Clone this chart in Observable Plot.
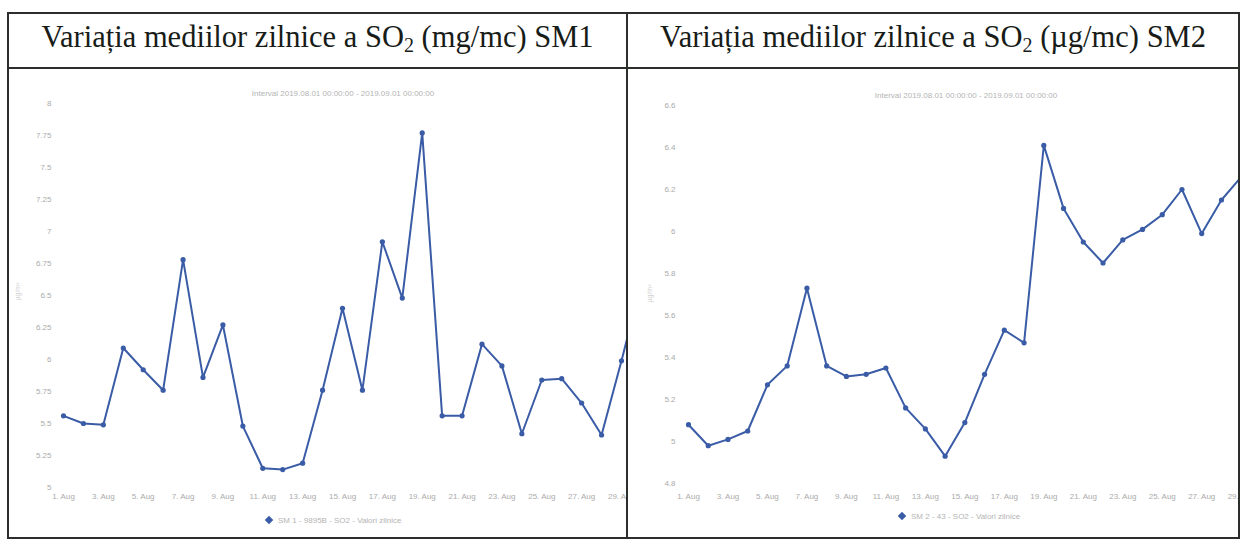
<!DOCTYPE html>
<html><head><meta charset="utf-8">
<script src="https://cdn.jsdelivr.net/npm/d3@7"></script>
<script src="https://cdn.jsdelivr.net/npm/@observablehq/plot@0.6"></script>
<style>
body{margin:0;background:#fff;}
#page{position:relative;width:1243px;height:541px;overflow:hidden;background:#fff;}
.ln{position:absolute;background:#2b2e2b;}
.title{position:absolute;top:13px;height:55px;font-family:"Liberation Serif",serif;font-size:30.5px;color:#181c18;text-align:center;line-height:1;white-space:nowrap;}
.title span.t{position:absolute;left:0;right:0;top:9px;}
.title sub{font-size:20px;vertical-align:-5px;line-height:0;}
.panel{position:absolute;top:69px;height:468px;overflow:hidden;}
.small{position:absolute;font-family:"Liberation Sans",Arial,sans-serif;font-size:8px;color:#b4b4b4;white-space:nowrap;}
.legend .dm{display:inline-block;width:6px;height:6px;background:#3a5ca6;transform:rotate(45deg);margin-right:6px;vertical-align:0px;}
.ytitle{position:absolute;font-family:"Liberation Sans",Arial,sans-serif;font-size:7px;color:#d2d2d2;transform:rotate(-90deg);transform-origin:center;white-space:nowrap;}
</style>
</head><body>
<div id="page">
  <div class="title" style="left:8px;width:619px;"><span class="t">Variația mediilor zilnice a SO<sub>2</sub> (mg/mc) SM1</span></div>
  <div class="title" style="left:627px;width:612px;"><span class="t">Variația mediilor zilnice a SO<sub>2</sub> (µg/mc) SM2</span></div>
  <div id="p1" class="panel" style="left:9px;width:617px;"></div>
  <div id="p2" class="panel" style="left:628px;width:611px;"></div>
  <div class="small" style="left:243px;top:89px;width:200px;text-align:center;">Interval 2019.08.01 00:00:00 - 2019.09.01 00:00:00</div>
  <div class="small" style="left:866px;top:91px;width:200px;text-align:center;">Interval 2019.08.01 00:00:00 - 2019.09.01 00:00:00</div>
  <div class="small legend" style="left:266px;top:516px;"><span class="dm"></span>SM 1 - 9895B - SO2 - Valori zilnice</div>
  <div class="small legend" style="left:899px;top:512px;"><span class="dm"></span>SM 2 - 43 - SO2 - Valori zilnice</div>
  <div class="ytitle" style="left:8px;top:288px;">µg/m³</div>
  <div class="ytitle" style="left:640px;top:290px;">µg/m³</div>
  <div class="ln" style="left:7px;top:12px;width:1233px;height:2px;"></div>
  <div class="ln" style="left:7px;top:67px;width:1233px;height:2px;"></div>
  <div class="ln" style="left:7px;top:537px;width:1233px;height:2px;"></div>
  <div class="ln" style="left:7px;top:12px;width:2px;height:527px;"></div>
  <div class="ln" style="left:626px;top:12px;width:2px;height:527px;"></div>
  <div class="ln" style="left:1238px;top:12px;width:2px;height:527px;"></div>
</div>
<script>
// Days of August 2019
const days1 = [1,2,3,4,5,6,7,8,9,10,11,12,13,14,15,16,17,18,19,20,21,22,23,24,25,26,27,28,29,30];
const sm1Values = [5.56,5.50,5.49,6.09,5.92,5.76,6.78,5.86,6.27,5.48,5.15,5.14,5.19,5.76,6.40,5.76,6.92,6.48,7.77,5.56,5.56,6.12,5.95,5.42,5.84,5.85,5.66,5.41,5.99,6.60];
const days2 = [1,2,3,4,5,6,7,8,9,10,11,12,13,14,15,16,17,18,19,20,21,22,23,24,25,26,27,28,29];
const sm2Values = [5.08,4.98,5.01,5.05,5.27,5.36,5.73,5.36,5.31,5.32,5.35,5.16,5.06,4.93,5.09,5.32,5.53,5.47,6.41,6.11,5.95,5.85,5.96,6.01,6.08,6.20,5.99,6.15,6.26];
const xTicks = [1,3,5,7,9,11,13,15,17,19,21,23,25,27,29];
const yTicks1 = [5,5.25,5.5,5.75,6,6.25,6.5,6.75,7,7.25,7.5,7.75,8];
const yTicks2 = [4.8,5,5.2,5.4,5.6,5.8,6,6.2,6.4,6.6];

const lineColor = "#3a5ca6";
const tickColor = "#ababab";

function makeChart(days, values, opts) {
  const data = days.map((d, i) => ({day: d, v: values[i]}));
  return Plot.plot({
    width: opts.width,
    height: 468,
    marginLeft: opts.marginLeft,
    marginBottom: 50,
    marginTop: 0,
    marginRight: 0,
    style: {fontFamily: "'Liberation Sans', Arial, sans-serif", fontSize: "8px", overflow: "visible", background: "transparent"},
    x: {domain: [1, 29], range: opts.xRange},
    y: {domain: opts.yDomain, range: opts.yRange},
    marks: [
      Plot.axisY({ticks: opts.yTicks, tickSize: 0, tickPadding: 3, fill: tickColor, label: null, tickFormat: d => String(d)}),
      Plot.axisX({ticks: xTicks, tickSize: 0, tickPadding: 6, fill: tickColor, label: null, tickFormat: d => d + ". Aug"}),
      Plot.line(data, {x: "day", y: "v", stroke: lineColor, strokeWidth: 2}),
      Plot.dot(data, {x: "day", y: "v", r: 2.6, fill: lineColor, stroke: null})
    ]
  });
}

document.getElementById("p1").append(makeChart(days1, sm1Values, {
  width: 617, marginLeft: 45, xRange: [54, 612], yDomain: [5, 8], yRange: [418, 34], yTicks: yTicks1
}));
document.getElementById("p2").append(makeChart(days2, sm2Values, {
  width: 611, marginLeft: 50, xRange: [60, 612.7], yDomain: [4.8, 6.6], yRange: [414, 36], yTicks: yTicks2
}));
</script>
</body></html>
